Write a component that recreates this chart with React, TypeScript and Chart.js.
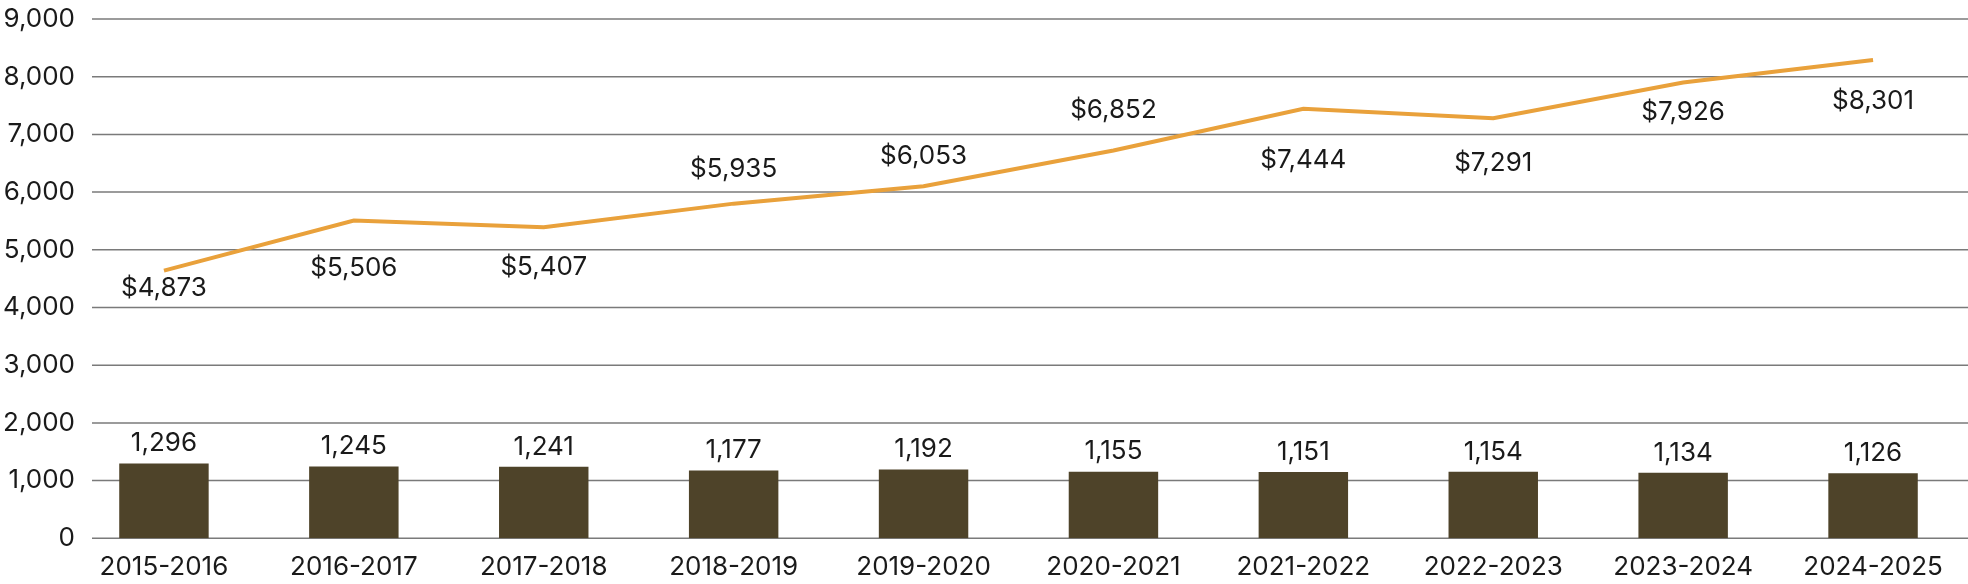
import { useEffect, useRef } from 'react';
import { Chart, registerables } from 'chart.js';

Chart.register(...registerables);

const categories = [
  '2015-2016', '2016-2017', '2017-2018', '2018-2019', '2019-2020',
  '2020-2021', '2021-2022', '2022-2023', '2023-2024', '2024-2025',
];
const enrollment = [1296, 1245, 1241, 1177, 1192, 1155, 1151, 1154, 1134, 1126];
const tuition = [4640, 5506, 5390, 5800, 6100, 6720, 7444, 7280, 7900, 8290];
const tuitionLabels = ['$4,873', '$5,506', '$5,407', '$5,935', '$6,053', '$6,852', '$7,444', '$7,291', '$7,926', '$8,301'];
const yMin = 0;
const yMax = 9000;
const yStep = 1000;

// label placement (style config, px relative to the point)
const tuitionLabelOffsets = [18, 48, 40, -34, -30, -40, 51, 45, 30, 41];

const FONT = 'Inter';
const FONT_SIZE = 26;
const TEXT_COLOR = '#1a1a1a';
const BAR_COLOR = '#4e4329';
const LINE_COLOR = '#e9a13b';
const GRID_COLOR = '#7a7a7a';

const gridPlugin = {
  id: 'customGrid',
  beforeDatasetsDraw(chart: any) {
    const { ctx } = chart;
    const y = chart.scales.y;
    const startX = y.right + 23;
    ctx.save();
    ctx.strokeStyle = GRID_COLOR;
    ctx.lineWidth = 1.5;
    ctx.font = `${FONT_SIZE}px ${FONT}`;
    ctx.fillStyle = TEXT_COLOR;
    ctx.textAlign = 'right';
    ctx.textBaseline = 'middle';
    y.ticks.forEach((t: any) => {
      const py = y.getPixelForValue(t.value);
      ctx.beginPath();
      ctx.moveTo(startX, py);
      ctx.lineTo(chart.width, py);
      ctx.stroke();
      ctx.fillText(Number(t.value).toLocaleString('en-US'), y.right + 6, py);
    });
    ctx.restore();
  },
};

const labelPlugin = {
  id: 'valueLabels',
  afterDatasetsDraw(chart: any) {
    const { ctx } = chart;
    ctx.save();
    ctx.font = `${FONT_SIZE}px ${FONT}`;
    ctx.fillStyle = TEXT_COLOR;
    ctx.textAlign = 'center';
    ctx.textBaseline = 'middle';
    const barMeta = chart.getDatasetMeta(1);
    barMeta.data.forEach((el: any, i: number) => {
      ctx.fillText(enrollment[i].toLocaleString('en-US'), el.x, el.y - 20);
    });
    const lineMeta = chart.getDatasetMeta(0);
    lineMeta.data.forEach((el: any, i: number) => {
      ctx.fillText(tuitionLabels[i], el.x, el.y + tuitionLabelOffsets[i]);
    });
    ctx.restore();
  },
};

export default function App() {
  const canvasRef = useRef<HTMLCanvasElement | null>(null);

  useEffect(() => {
    if (!canvasRef.current) return;
    const chart = new Chart(canvasRef.current, {
      type: 'bar',
      data: {
        labels: categories,
        datasets: [
          {
            type: 'line',
            label: 'Tuition',
            data: tuition,
            borderColor: LINE_COLOR,
            backgroundColor: LINE_COLOR,
            borderWidth: 4,
            tension: 0,
            pointRadius: 0,
            pointHoverRadius: 0,
            order: 0,
          } as any,
          {
            type: 'bar',
            label: 'Enrollment',
            data: enrollment,
            backgroundColor: BAR_COLOR,
            categoryPercentage: 1,
            barPercentage: 0.471,
            order: 1,
          },
        ],
      },
      options: {
        animation: false,
        responsive: false,
        layout: { padding: { top: 19, right: -6, left: 0, bottom: 0 } },
        plugins: {
          legend: { display: false },
          tooltip: { enabled: false },
        },
        scales: {
          x: {
            offset: true,
            grid: { display: false, drawTicks: false },
            border: { display: false },
            ticks: {
              padding: 13,
              maxRotation: 0,
              autoSkip: false,
              color: TEXT_COLOR,
              font: { family: FONT, size: FONT_SIZE },
            },
            afterFit: (scale: any) => {
              scale.height = 45.7;
            },
          },
          y: {
            min: yMin,
            max: yMax,
            grid: { display: false, drawTicks: false },
            border: { display: false },
            ticks: {
              display: false,
              stepSize: yStep,
              font: { family: FONT, size: FONT_SIZE },
            },
            afterFit: (scale: any) => {
              scale.width = 69;
            },
          },
        },
      },
      plugins: [gridPlugin, labelPlugin],
    });
    return () => chart.destroy();
  }, []);

  return (
    <div style={{ position: 'absolute', left: 0, top: 0, width: 1968, height: 584, background: '#fff' }}>
      <canvas ref={canvasRef} width={1968} height={584} />
    </div>
  );
}
